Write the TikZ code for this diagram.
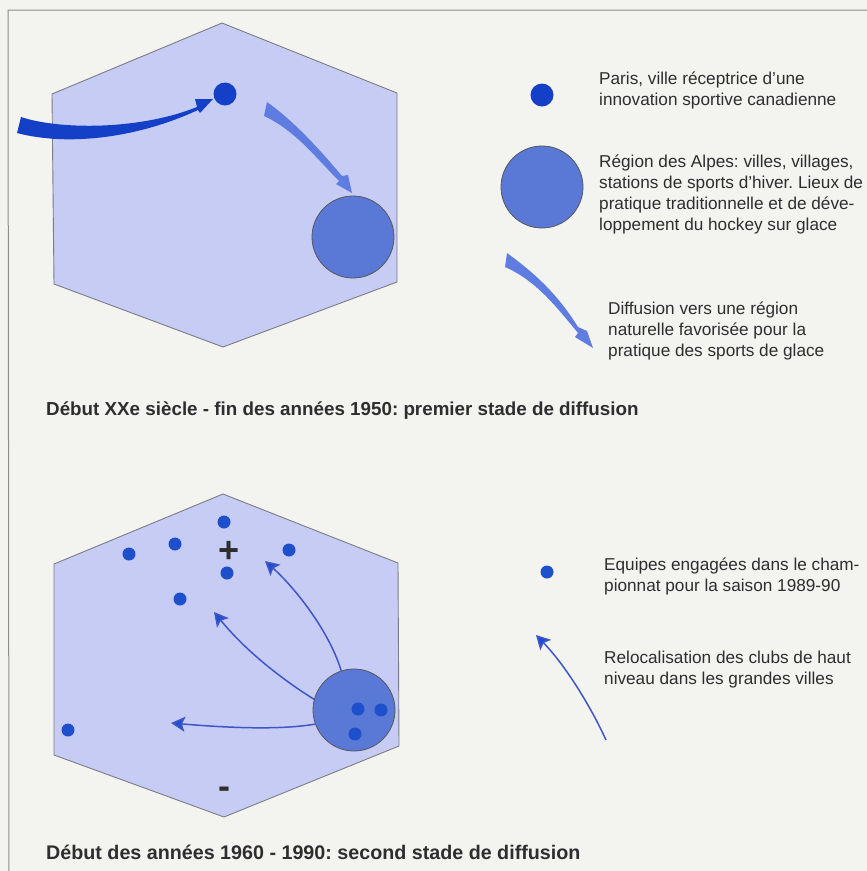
\documentclass[tikz,border=0pt]{standalone}
\usepackage{fontspec}
\setmainfont{Liberation Sans}
\frenchspacing
\usetikzlibrary{arrows.meta}
\definecolor{paper}{HTML}{F3F3F0}
\definecolor{hexfill}{HTML}{C6CCF4}
\definecolor{hexline}{HTML}{7C7C86}
\definecolor{region}{HTML}{5A78D6}
\definecolor{dotblue}{HTML}{1F50CC}
\definecolor{parisblue}{HTML}{1440C8}
\definecolor{lightarrow}{HTML}{5F7DE0}
\definecolor{thinarrow}{HTML}{3F55C8}
\definecolor{inkgrey}{HTML}{2E2E30}
\tikzset{
  x=1pt,y=-1pt,
  hexagon/.style={fill=hexfill,draw=hexline,line width=0.9pt,line join=round},
  regioncircle/.style={circle,fill=region,draw=hexline!70!black,line width=0.8pt,minimum size=82pt,inner sep=0pt},
  parisdot/.style={circle,fill=parisblue,minimum size=23pt,inner sep=0pt},
  smalldot/.style={circle,fill=dotblue,minimum size=13pt,inner sep=0pt},
  frameline/.style={draw=black!45,line width=1pt},
  thin arrow/.style={draw=thinarrow,line width=1.5pt,-{Stealth[length=14pt,width=15pt,inset=3pt,fill=dotblue]}},
  legendtext/.style={anchor=north west,align=left,inner sep=0pt,font=\fontsize{17.2}{21}\selectfont,text=inkgrey},
  captiontext/.style={anchor=west,inner sep=0pt,font=\fontsize{18.8}{22}\selectfont\bfseries,text=inkgrey},
  captionwide/.style={captiontext,font=\fontsize{19.7}{22}\selectfont\bfseries},
  signtext/.style={inner sep=0pt,font=\fontsize{36}{36}\selectfont\bfseries,text=inkgrey},
}
\begin{document}
\begin{tikzpicture}
\fill[paper] (0,0) rectangle (867,871);
\useasboundingbox (0,0) rectangle (867,871);
\draw[frameline] (867,10) -- (8,10) -- (9,871);
% first hexagon
\draw[hexagon] (222,23) -- (397,93) -- (397,282) -- (223,347) -- (54,284) -- (52,94) -- cycle;
\node[parisdot] (paris) at (225,94) {};
\node[regioncircle] (alpes) at (353,237) {};
\fill[parisblue] (21,117) .. controls (60,130) and (140,130) .. (197,107)
  -- (195,99) -- (213,99) -- (200,113) -- (198,110)
  .. controls (140,137) and (70,147) .. (17,133) -- cycle;
\fill[lightarrow] (267,102) .. controls (295,122) and (320,150) .. (342,176)
  -- (348,175) -- (352,193) -- (336,184) -- (339,181)
  .. controls (318,160) and (295,130) .. (264,116) -- cycle;
% legend 1
\node[parisdot] (legparis) at (542,95) {};
\node[regioncircle] (legalpes) at (542,187) {};
\fill[lightarrow] (507,253) .. controls (530,270) and (555,290) .. (578,327)
  -- (587,331) -- (593,348) -- (575,337) -- (578,333)
  .. controls (555,305) and (535,280) .. (505,267) -- cycle;
\node[legendtext] (t1) at (599,72) {Paris, ville réceptrice d'une\\innovation sportive canadienne};
\node[legendtext] (t2) at (599,155) {Région des Alpes: villes, villages,\\stations de sports d'hiver. Lieux de\\pratique traditionnelle et de déve-\\loppement du hockey sur glace};
\node[legendtext] (t3) at (608,302) {Diffusion vers une région\\naturelle favorisée pour la\\pratique des sports de glace};
\node[captiontext] (cap1) at (46,411) {Début XXe siècle - fin des années 1950: premier stade de diffusion};
% second hexagon
\draw[hexagon] (223,494) -- (398,563) -- (399,746) -- (224,817) -- (54,755) -- (54,564) -- cycle;
\node[regioncircle] (alpes2) at (354,710) {};
\node[smalldot] (d1) at (224,522) {};
\node[smalldot] (d2) at (175,544) {};
\node[smalldot] (d3) at (129,554) {};
\node[smalldot] (d4) at (289,550) {};
\node[smalldot] (d5) at (227,573) {};
\node[smalldot] (d6) at (180,599) {};
\node[smalldot] (d7) at (68,730) {};
\node[smalldot] (d8) at (358,709) {};
\node[smalldot] (d9) at (381,710) {};
\node[smalldot] (d10) at (355,734) {};
\node[signtext] (plus) at (229,552) {+};
\node[signtext] (minus) at (224,793) {-};
\coordinate (a1e) at (265,561);
\coordinate (a2e) at (214,612);
\coordinate (a3e) at (171,723);
\draw[thin arrow] (alpes2.108) .. controls (328,628) and (292,585) .. (a1e);
\draw[thin arrow] (alpes2.165) .. controls (280,678) and (245,650) .. (a2e);
\draw[thin arrow] (alpes2.200) .. controls (280,730) and (230,728) .. (a3e);
% legend 2
\node[smalldot] (legdot) at (547,572) {};
\coordinate (ls) at (606,740);
\coordinate (le) at (536,635);
\draw[thin arrow] (ls) .. controls (590,705) and (565,665) .. (le);
\node[legendtext] (t4) at (604,558) {Equipes engagées dans le cham-\\pionnat pour la saison 1989-90};
\node[legendtext] (t5) at (604,651) {Relocalisation des clubs de haut\\niveau dans les grandes villes};
\node[captionwide] (cap2) at (46,852) {Début des années 1960 - 1990: second stade de diffusion};
\end{tikzpicture}
\end{document}
